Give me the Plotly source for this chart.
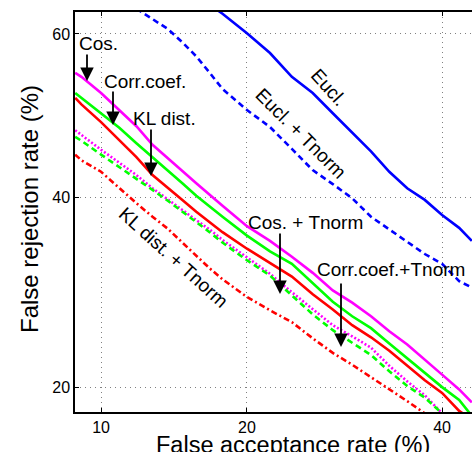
from statistics import NormalDist
import plotly.graph_objects as go

# ---------------- data (percent) ----------------
fa_main = [8.7, 9, 10, 11, 12, 13, 14, 15, 16, 17, 18, 20, 22, 24, 26, 28, 30, 32, 34, 36, 38, 40, 42, 43.5]
frr_cos = [55.3, 54.8, 52.8, 50.7, 48.7, 46.4, 44.8, 43.2, 41.7, 40.3, 39.0, 36.6, 34.9, 33.1, 31.3, 29.4,
           28.1, 26.7, 25.2, 23.9, 22.5, 21.1, 19.8, 18.7]
frr_corr = [52.8, 52.2, 50.2, 48.5, 46.6, 44.9, 43.2, 41.7, 40.2, 38.9, 37.7, 35.5, 33.7, 32.3, 30.2, 28.2,
            26.7, 25.5, 24.0, 22.6, 21.3, 20.0, 18.9, 17.6]
frr_kl = [52.2, 51.4, 49.2, 47.0, 44.9, 42.7, 41.1, 39.7, 38.3, 37.1, 35.9, 34.0, 32.4, 30.9, 29.0, 27.4,
          25.8, 24.6, 23.3, 21.9, 20.6, 19.5, 18.0, 17.3]

fa_cos_t = [8.7, 9, 10, 11, 12, 13, 14, 15, 16, 17, 18, 20, 22, 24, 26, 28, 30, 32, 34, 36, 38, 40]
frr_cos_t = [48.2, 47.6, 45.8, 44.2, 42.7, 41.1, 39.8, 38.5, 37.3, 36.2, 35.0, 33.0, 31.2, 29.2, 27.4, 25.8,
             24.7, 23.6, 21.9, 20.5, 19.3, 17.8]
fa_corr_t = [8.7, 9, 10, 11, 12, 13, 14, 15, 16, 17, 18, 20, 22, 24, 26, 28, 30, 32, 34, 36, 38, 40]
frr_corr_t = [47.4, 46.9, 45.2, 43.7, 42.3, 40.9, 39.6, 38.3, 37.1, 35.9, 34.7, 32.7, 31.0, 28.9, 26.9, 25.3,
              24.1, 22.9, 21.4, 20.1, 19.1, 17.8]
fa_kl_t = [8.7, 9, 10, 11, 12, 13, 14, 15, 16, 17, 18, 20, 22, 24, 26, 28, 30, 32, 34, 36, 38]
frr_kl_t = [45.2, 44.5, 43.1, 41.1, 39.3, 37.7, 36.3, 34.7, 33.2, 31.8, 30.6, 28.7, 27.3, 26.1, 24.5, 23.1,
            22.0, 20.9, 19.8, 18.8, 17.8]

fa_eucl = [17, 18, 20, 22, 24, 26, 28, 30, 32, 34, 36, 38, 40, 42, 43.5]
frr_eucl = [63.5, 62.4, 60.1, 57.7, 54.8, 52.8, 50.3, 47.9, 45.6, 43.1, 41.1, 39.7, 37.9, 36.4, 34.9]
fa_eucl_t = [12, 13, 14, 15, 16, 17, 18, 20, 22, 24, 26, 28, 30, 32, 34, 36, 38, 40, 42, 43.5]
frr_eucl_t = [63.0, 61.8, 60.6, 59.0, 57.3, 55.3, 53.3, 50.7, 48.6, 45.9, 43.3, 41.6, 39.9, 37.7, 36.2, 34.7,
              33.4, 32.3, 30.4, 29.7]

x_ticks = [10, 20, 40]
y_ticks = [20, 40, 60]
x_range_pct = [8.69, 43.52]
y_range_pct = [17.91, 62.61]

nd = NormalDist()


def probit(vals):
    return [nd.inv_cdf(v / 100.0) for v in vals]


FONT = "Liberation Sans, Arial, Helvetica, sans-serif"

series = [
    (fa_eucl, frr_eucl, "#0000FF", "solid", "Eucl."),
    (fa_main, frr_cos, "#FF00FF", "solid", "Cos."),
    (fa_main, frr_corr, "#00FF00", "solid", "Corr.coef."),
    (fa_main, frr_kl, "#FF0000", "solid", "KL dist."),
    (fa_eucl_t, frr_eucl_t, "#0000FF", "6px,4px", "Eucl. + Tnorm"),
    (fa_cos_t, frr_cos_t, "#FF00FF", "2px,2px", "Cos. + Tnorm"),
    (fa_corr_t, frr_corr_t, "#00FF00", "6px,4px", "Corr.coef.+Tnorm"),
    (fa_kl_t, frr_kl_t, "#FF0000", "6px,3px,2px,3px", "KL dist. + Tnorm"),
]

fig = go.Figure()
for xs, ys, col, dash, name in series:
    fig.add_trace(go.Scatter(x=probit(xs), y=probit(ys), mode="lines", name=name,
                             line=dict(color=col, width=2.6, dash=dash)))

# plot area geometry (px) used to place labels in paper coords
L, R, T, B = 75, 472, 12, 412


def px(xp):
    return (xp - L) / (R - L)


def py(yp):
    return (B - yp) / (B - T)


ann = []
texts = [
    ("Cos.", 98, 43, 0),
    ("Corr.coef.", 144.5, 81, 0),
    ("KL dist.", 164, 119, 0),
    ("Eucl.", 329, 87, 48),
    ("Eucl. + Tnorm", 301, 133, 45),
    ("Cos. + Tnorm", 305.5, 222, 0),
    ("Corr.coef.+Tnorm", 391, 269.5, 0),
    ("KL dist. + Tnorm", 173.5, 257.5, 42),
]
for t, x0, y0, ang in texts:
    ann.append(dict(text=t, x=px(x0), y=py(y0), xref="paper", yref="paper", showarrow=False,
                    textangle=ang, font=dict(family=FONT, size=19, color="black"),
                    xanchor="center", yanchor="middle"))

arrows = [(87, 53, 81), (113, 90, 125), (151, 128, 176), (280, 232, 294), (341, 282, 347)]
for xa, y_tail, y_head in arrows:
    ann.append(dict(text="", x=px(xa), y=py(y_head), xref="paper", yref="paper", showarrow=True,
                    ax=0, ay=y_tail - y_head, arrowhead=2, arrowsize=1.5, arrowwidth=1.8,
                    arrowcolor="black"))

ann.append(dict(text="False acceptance rate (%)", x=px(293), y=py(445), xref="paper", yref="paper",
                showarrow=False, font=dict(family=FONT, size=23.5, color="black"),
                xanchor="center", yanchor="middle"))
ann.append(dict(text="False rejection rate (%)", x=px(29), y=py(209), xref="paper", yref="paper",
                showarrow=False, textangle=-90, font=dict(family=FONT, size=24, color="black"),
                xanchor="center", yanchor="middle"))

fig.update_layout(
    width=472, height=452,
    margin=dict(l=L, r=0, t=T, b=452 - B),
    paper_bgcolor="white", plot_bgcolor="white",
    showlegend=False,
    annotations=ann,
    font=dict(family=FONT, size=16, color="black"),
)
fig.update_xaxes(range=probit(x_range_pct), tickvals=probit(x_ticks), ticktext=[str(v) for v in x_ticks],
                 showline=True, linecolor="black", linewidth=1.5, mirror="allticks",
                 ticks="inside", ticklen=4, tickcolor="black", tickwidth=1,
                 showgrid=True, gridcolor="#808080", gridwidth=1, griddash="1px,4px",
                 zeroline=False, tickfont=dict(family=FONT, size=16, color="black"))
fig.update_yaxes(range=probit(y_range_pct), tickvals=probit(y_ticks), ticktext=[str(v) for v in y_ticks],
                 showline=True, linecolor="black", linewidth=1.5, mirror=False,
                 ticks="inside", ticklen=4, tickcolor="black", tickwidth=1,
                 showgrid=True, gridcolor="#808080", gridwidth=1, griddash="1px,4px",
                 zeroline=False, tickfont=dict(family=FONT, size=16, color="black"))

fig.write_html("out.html")
